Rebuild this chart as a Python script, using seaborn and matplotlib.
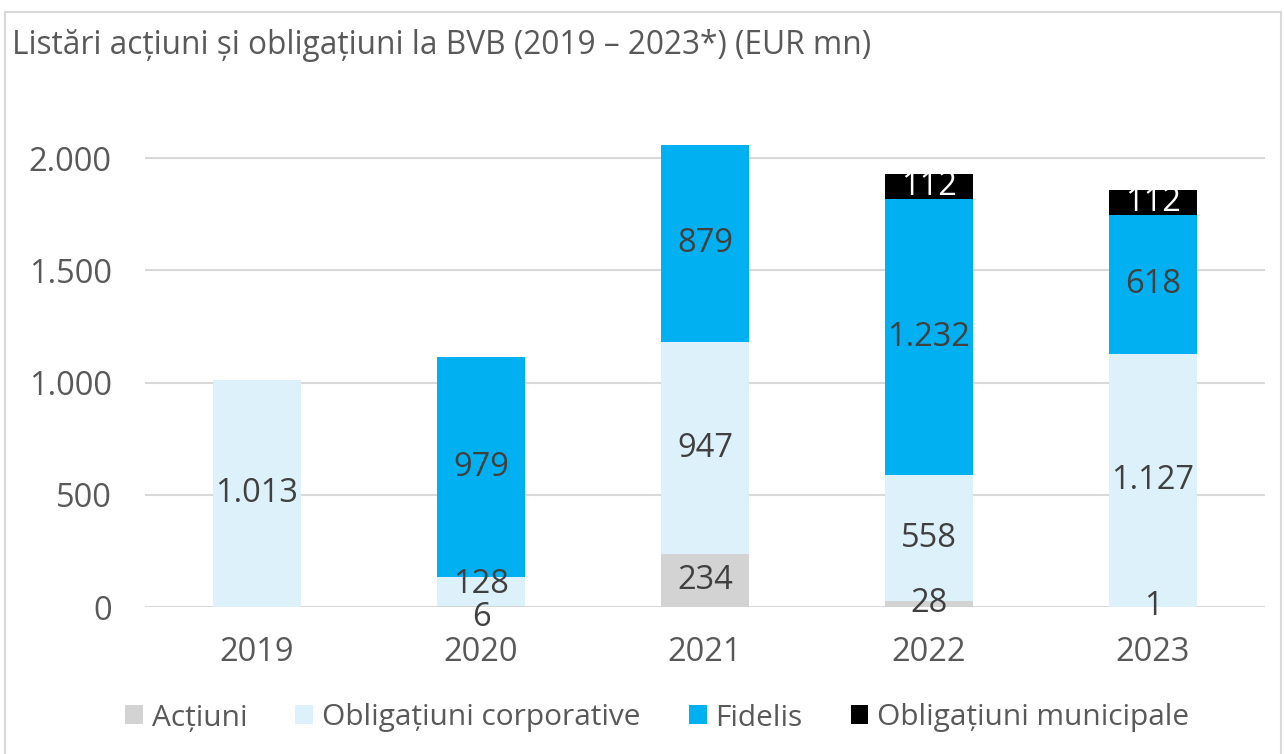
import matplotlib
matplotlib.use("Agg")
import matplotlib.pyplot as plt
from matplotlib.patches import Rectangle, Patch
import seaborn as sns
import pandas as pd
import numpy as np

years = ["2019", "2020", "2021", "2022", "2023"]
actiuni = [0, 6, 234, 28, 1]
oblig_corp = [1013, 128, 947, 558, 1127]
fidelis = [0, 979, 879, 1232, 618]
oblig_munic = [0, 0, 0, 112, 112]

series_names = ["Acțiuni", "Obligațiuni corporative", "Fidelis", "Obligațiuni municipale"]
series_vals = [actiuni, oblig_corp, fidelis, oblig_munic]
colors = ["#D3D3D3", "#DDF1FB", "#00B0F0", "#000000"]
label_colors = ["#404040", "#404040", "#404040", "#FFFFFF"]

sns.set_theme(style="white")
plt.rcParams["font.family"] = ["Open Sans", "DejaVu Sans"]

fig = plt.figure(figsize=(12.84, 7.54), dpi=100)
ax = fig.add_axes([145/1284, 1-607/754, (1265-145)/1284, (607-102)/754])

# frame around the chart
fig.patches.append(Rectangle((5/1284, -0.01), (1281-5)/1284, 1-12/754 + 0.01,
                             transform=fig.transFigure, fill=False,
                             edgecolor="#D9D9D9", linewidth=1.5, zorder=0))

cum = np.cumsum(np.array(series_vals), axis=0)
df = pd.DataFrame({"year": years})
# draw cumulative totals from top layer to bottom so lower layers overlay
for i in range(len(series_vals) - 1, -1, -1):
    df["v"] = cum[i]
    sns.barplot(data=df, x="year", y="v", color=colors[i], width=0.39,
                saturation=1, ax=ax, zorder=3, edgecolor="none")

# data labels
nudge = {(1, 0): -11, (1, 1): 7}  # small-segment overlap avoidance (px)
for i, vals in enumerate(series_vals):
    base = cum[i] - np.array(vals)
    for j, v in enumerate(vals):
        if v == 0:
            continue
        yc = base[j] + v / 2
        txt = f"{v:,}".replace(",", ".")
        dy = nudge.get((j, i), 0)
        ax.annotate(txt, (j, yc), xytext=(0, dy), textcoords="offset pixels",
                    ha="center", va="center", fontsize=23.5,
                    color=label_colors[i], zorder=5)

ax.set_xlim(-0.5, 4.5)
ax.set_ylim(0, 2250)
ax.set_yticks([0, 500, 1000, 1500, 2000])
ax.set_yticklabels([f"{t:,}".replace(",", ".") for t in [0, 500, 1000, 1500, 2000]])
ax.yaxis.grid(True, color="#D9D9D9", linewidth=1.5, zorder=0)
ax.set_axisbelow(True)
for s in ax.spines.values():
    s.set_visible(False)
ax.tick_params(axis="both", length=0, labelsize=23.5, colors="#595959")
ax.tick_params(axis="y", pad=24)
ax.tick_params(axis="x", pad=21)
ax.set_xlabel("")
ax.set_ylabel("")

fig.text(12/1284, 1-45/754, "Listări acțiuni și obligațiuni la BVB (2019 – 2023*) (EUR mn)",
         fontsize=22.8, color="#595959", ha="left", va="center")

handles = [Patch(facecolor=c, edgecolor="none") for c in colors]
fig.legend(handles, series_names, loc="center", bbox_to_anchor=(0.512, 1-718/754),
           ncol=4, frameon=False, fontsize=21.5, labelcolor="#595959",
           handlelength=0.6, handleheight=0.6, handletextpad=0.3, columnspacing=1.6)

fig.savefig("out.png", dpi=100, facecolor="white")
